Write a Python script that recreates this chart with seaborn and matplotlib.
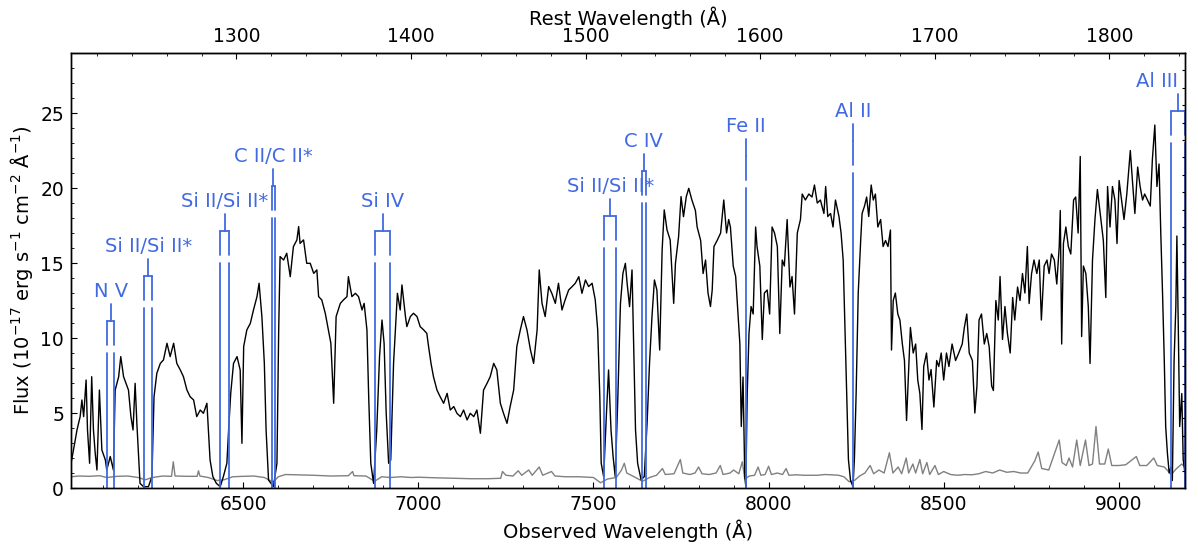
import pandas as pd
import seaborn as sns
import matplotlib.pyplot as plt
from matplotlib.ticker import MultipleLocator, NullLocator

# observed spectrum (Angstrom, 1e-17 erg/s/cm2/A)
obs_wave = [6008, 6015, 6025, 6034, 6039, 6044, 6051, 6055, 6061, 6067, 6072, 6077, 6082, 6089, 6096,
            6106, 6110, 6120, 6129, 6134, 6144, 6150, 6158, 6165, 6172, 6179, 6185, 6191, 6196, 6202,
            6205, 6215, 6229, 6239, 6245, 6253, 6263, 6272, 6282, 6291, 6301, 6310, 6320, 6329, 6339,
            6348, 6358, 6367, 6377, 6386, 6396, 6405, 6413, 6423, 6434, 6443, 6453, 6458, 6464, 6472,
            6482, 6491, 6496, 6501, 6510, 6520, 6529, 6539, 6545, 6553, 6560, 6565, 6572, 6586, 6596,
            6601, 6605, 6615, 6624, 6634, 6643, 6653, 6658, 6662, 6672, 6681, 6691, 6701, 6710, 6715,
            6724, 6734, 6743, 6750, 6758, 6765, 6777, 6786, 6796, 6800, 6810, 6820, 6829, 6839, 6845,
            6853, 6858, 6864, 6872, 6881, 6889, 6896, 6902, 6908, 6915, 6921, 6929, 6940, 6948, 6953,
            6963, 6967, 6977, 6986, 6996, 7005, 7015, 7024, 7029, 7036, 7043, 7053, 7062, 7072, 7082,
            7091, 7101, 7110, 7120, 7129, 7139, 7148, 7158, 7167, 7177, 7186, 7196, 7205, 7215, 7224,
            7229, 7234, 7243, 7253, 7262, 7272, 7281, 7291, 7300, 7310, 7320, 7329, 7339, 7345, 7353,
            7362, 7372, 7381, 7391, 7400, 7410, 7419, 7429, 7439, 7448, 7458, 7467, 7477, 7486, 7496,
            7505, 7512, 7518, 7522, 7529, 7537, 7543, 7550, 7556, 7562, 7569, 7577, 7584, 7591, 7596,
            7603, 7610, 7615, 7620, 7626, 7636, 7645, 7653, 7660, 7667, 7674, 7681, 7689, 7696, 7702,
            7710, 7719, 7729, 7734, 7743, 7750, 7757, 7765, 7772, 7781, 7791, 7796, 7806, 7813, 7820,
            7827, 7834, 7839, 7844, 7853, 7863, 7872, 7880, 7886, 7891, 7899, 7906, 7912, 7918, 7922,
            7927, 7932, 7935, 7939, 7944, 7950, 7956, 7963, 7967, 7975, 7982, 7988, 7996, 8003, 8010,
            8017, 8025, 8032, 8039, 8045, 8053, 8061, 8067, 8074, 8082, 8091, 8096, 8105, 8115, 8124,
            8131, 8139, 8148, 8158, 8163, 8169, 8177, 8184, 8191, 8201, 8207, 8213, 8218, 8223, 8228,
            8234, 8241, 8245, 8250, 8256, 8263, 8267, 8274, 8280, 8286, 8293, 8299, 8305, 8312, 8320,
            8327, 8334, 8341, 8348, 8351, 8356, 8362, 8369, 8375, 8382, 8388, 8394, 8401, 8405, 8413,
            8420, 8426, 8432, 8438, 8443, 8451, 8458, 8464, 8472, 8480, 8486, 8493, 8500, 8508, 8515,
            8524, 8534, 8543, 8553, 8559, 8566, 8573, 8582, 8589, 8595, 8601, 8608, 8616, 8623, 8630,
            8637, 8642, 8649, 8656, 8661, 8668, 8675, 8682, 8690, 8697, 8703, 8711, 8718, 8725, 8732,
            8739, 8744, 8751, 8758, 8766, 8773, 8779, 8787, 8795, 8801, 8808, 8816, 8823, 8830, 8833,
            8837, 8842, 8849, 8856, 8863, 8871, 8877, 8884, 8890, 8894, 8899, 8906, 8913, 8918, 8925,
            8932, 8939, 8947, 8956, 8963, 8968, 8975, 8982, 8989, 8995, 9001, 9008, 9015, 9023, 9033,
            9039, 9046, 9054, 9061, 9068, 9074, 9082, 9090, 9096, 9103, 9109, 9115, 9120, 9125, 9130,
            9134, 9139, 9144, 9149, 9153, 9158, 9163, 9166, 9170, 9174, 9180, 9184, 9189]
flux = [1.65, 2.54, 3.87, 4.76, 5.87, 4.76, 7.2, 3.87, 1.65, 7.42, 3.87, 2.32, 1.2, 6.53, 2.54,
        1.87, 1.2, 2.1, 1.2, 6.53, 7.42, 8.76, 7.42, 6.98, 6.53, 4.76, 3.87, 6.98, 4.3, 1.65,
        0.31, 0.09, 0.09, 0.76, 6.09, 7.65, 8.31, 8.54, 9.65, 8.76, 9.65, 8.31, 7.87, 7.42, 6.53,
        6.09, 5.87, 4.76, 5.2, 4.98, 5.65, 1.87, 0.76, 0.31, 0.09, 0.76, 1.65, 3.87, 6.31, 8.31,
        8.76, 7.87, 2.98, 9.43, 10.54, 10.98, 11.87, 12.76, 13.65, 11.43, 8.31, 3.87, 0.53, 0.09, 1.65,
        10.54, 15.43, 15.2, 15.65, 14.09, 16.09, 16.54, 17.43, 16.31, 16.54, 14.98, 14.98, 14.31, 14.54, 12.76,
        12.54, 11.65, 10.54, 9.65, 5.65, 11.43, 12.31, 12.54, 12.76, 14.09, 12.76, 12.98, 12.76, 11.87, 12.31,
        10.54, 6.09, 1.65, 0.31, 3.87, 8.76, 11.2, 9.65, 4.98, 1.65, 1.87, 8.31, 12.98, 11.87, 13.54,
        11.43, 10.76, 11.43, 11.65, 11.43, 10.76, 10.54, 10.31, 9.43, 8.31, 7.42, 6.53, 6.09, 5.65, 6.31,
        5.2, 5.43, 4.98, 4.76, 5.2, 4.54, 4.98, 4.76, 5.2, 3.65, 6.53, 6.98, 7.42, 8.31, 7.87,
        6.76, 5.65, 4.98, 4.31, 5.43, 6.53, 9.43, 10.54, 11.43, 10.54, 9.2, 8.31, 10.54, 14.54, 12.31,
        11.43, 13.43, 12.98, 12.31, 13.65, 11.87, 12.54, 13.2, 13.43, 13.65, 14.09, 12.98, 13.87, 13.43, 13.65,
        12.54, 10.54, 6.09, 1.65, 0.76, 4.98, 7.87, 3.87, 2.09, 0.76, 5.65, 12.31, 14.31, 14.98, 13.65,
        12.09, 14.54, 9.2, 3.87, 1.65, 0.54, 0.76, 4.31, 8.31, 11.43, 13.87, 13.2, 9.2, 15.87, 18.54,
        17.2, 16.54, 12.31, 14.98, 16.76, 19.43, 18.09, 19.43, 19.98, 19.2, 18.5, 17.4, 16.5, 14.3, 15.2,
        13.0, 12.1, 13.2, 16.1, 16.5, 17.0, 19.2, 17.0, 17.9, 17.4, 14.8, 14.1, 11.9, 9.6, 4.1,
        7.4, 0.75, 0.1, 6.3, 10.3, 12.1, 11.6, 17.4, 16.1, 14.8, 9.9, 13.0, 13.2, 11.6, 17.4,
        17.0, 16.1, 10.3, 15.2, 14.8, 17.9, 13.4, 14.1, 11.6, 17.0, 17.9, 19.6, 19.2, 19.6, 19.4,
        20.2, 19.0, 19.2, 18.3, 20.1, 18.1, 18.3, 17.4, 19.2, 18.1, 17.0, 15.2, 10.7, 6.3, 1.9,
        0.5, 0.1, 1.9, 6.3, 13.0, 16.5, 18.3, 18.8, 19.4, 18.1, 20.2, 19.2, 19.6, 17.4, 17.9,
        16.1, 16.5, 16.1, 17.2, 9.2, 12.5, 13.0, 11.6, 11.2, 9.6, 8.5, 4.5, 8.5, 10.7, 9.0,
        9.6, 7.2, 6.3, 3.9, 8.1, 9.0, 7.2, 7.9, 5.4, 8.5, 8.1, 9.0, 7.2, 9.0, 8.1,
        9.6, 8.5, 9.0, 9.6, 10.7, 11.6, 9.0, 8.5, 5.0, 6.8, 11.2, 11.6, 9.6, 10.3, 9.4,
        6.8, 6.5, 12.5, 11.2, 14.1, 9.9, 12.1, 10.3, 9.0, 12.7, 11.2, 13.4, 12.5, 14.3, 13.0,
        16.1, 12.3, 14.3, 15.2, 14.3, 15.2, 11.2, 14.8, 15.2, 14.3, 15.6, 15.2, 13.6, 16.1, 18.5,
        9.6, 16.3, 17.4, 16.1, 15.6, 19.2, 19.4, 17.0, 22.1, 10.1, 14.8, 14.3, 12.1, 8.3, 15.2,
        17.9, 19.9, 18.3, 16.5, 12.7, 20.1, 17.4, 20.1, 19.2, 16.3, 20.5, 19.2, 17.9, 19.6, 22.5,
        20.5, 18.3, 21.4, 20.1, 19.2, 19.6, 19.2, 18.8, 21.9, 24.2, 20.1, 21.6, 17.0, 13.0, 8.5,
        4.1, 2.3, 1.0, 1.4, 0.5, 8.5, 12.1, 16.8, 10.7, 4.1, 6.3, 1.9, 1.0]

# error spectrum
err_wave = [6008, 6030, 6060, 6090, 6110, 6140, 6170, 6200, 6220, 6240, 6270, 6295, 6300, 6305, 6340,
            6368, 6372, 6376, 6400, 6425, 6445, 6470, 6500, 6530, 6560, 6585, 6600, 6620, 6650, 6700,
            6750, 6800, 6812, 6816, 6850, 6875, 6895, 6920, 6950, 6980, 7000, 7050, 7100, 7150, 7200,
            7235, 7240, 7250, 7270, 7285, 7295, 7315, 7325, 7345, 7355, 7380, 7390, 7420, 7460, 7500,
            7520, 7540, 7565, 7580, 7588, 7595, 7620, 7640, 7660, 7680, 7697, 7705, 7730, 7748, 7755,
            7775, 7790, 7800, 7810, 7830, 7850, 7862, 7870, 7890, 7900, 7915, 7925, 7932, 7945, 7960,
            7970, 7978, 7990, 8000, 8008, 8025, 8040, 8050, 8058, 8080, 8100, 8140, 8160, 8180, 8200,
            8215, 8230, 8245, 8260, 8275, 8290, 8300, 8315, 8330, 8345, 8355, 8370, 8380, 8393, 8400,
            8412, 8420, 8432, 8440, 8452, 8460, 8475, 8485, 8500, 8520, 8540, 8560, 8580, 8600, 8620,
            8640, 8660, 8680, 8700, 8720, 8740, 8760, 8770, 8780, 8800, 8830, 8838, 8850, 8858, 8868,
            8880, 8890, 8905, 8915, 8925, 8935, 8945, 8960, 8970, 8980, 9000, 9020, 9050, 9060, 9080,
            9100, 9110, 9130, 9150, 9165, 9180, 9189]
err_flux = [0.75, 0.8, 0.78, 0.82, 0.7, 0.78, 0.8, 0.7, 0.55, 0.7, 0.8, 0.78, 1.75, 0.8, 0.78,
            0.78, 1.15, 0.8, 0.7, 0.5, 0.55, 0.75, 0.78, 0.8, 0.7, 0.4, 0.75, 0.9, 0.88, 0.85,
            0.8, 0.82, 1.1, 0.82, 0.8, 0.45, 0.75, 0.7, 0.75, 0.7, 0.72, 0.68, 0.65, 0.62, 0.62,
            0.65, 1.1, 0.85, 0.8, 1.15, 0.85, 1.2, 0.85, 1.4, 0.85, 1.1, 0.8, 0.75, 0.75, 0.7,
            0.35, 0.6, 0.7, 1.2, 1.65, 1.0, 0.7, 0.45, 0.7, 0.85, 1.3, 0.9, 0.95, 1.9, 1.0,
            0.9, 1.0, 1.4, 0.95, 0.9, 1.0, 1.5, 0.9, 1.0, 1.2, 0.95, 1.75, 0.6, 0.8, 0.85,
            1.4, 0.85, 0.9, 1.45, 0.9, 1.0, 0.9, 1.3, 0.85, 0.88, 0.85, 0.85, 0.9, 0.88, 0.85,
            0.75, 0.42, 0.5, 0.8, 1.0, 1.5, 0.95, 1.2, 1.0, 2.35, 1.0, 1.4, 0.95, 2.0, 1.0,
            1.6, 1.0, 1.9, 0.95, 1.7, 0.9, 1.5, 0.9, 1.1, 0.9, 0.85, 0.9, 0.88, 0.95, 1.1,
            1.0, 1.2, 1.05, 1.1, 1.0, 1.0, 1.8, 2.4, 1.3, 1.2, 3.2, 1.7, 1.5, 2.0, 1.4,
            3.2, 1.5, 3.2, 1.5, 1.6, 4.1, 1.6, 1.6, 2.6, 1.5, 1.5, 1.55, 2.1, 1.5, 1.5,
            2.0, 1.5, 1.4, 0.9, 1.3, 1.6, 1.4]

z_qso = 3.985   # for the rest-frame axis
z_abs = 3.933   # absorber

line_names = ['N V', 'Si II/Si II*', 'Si II/Si II*', 'C II/C II*', 'Si IV', 'Si II/Si II*',
              'C IV', 'Fe II', 'Al II', 'Al III']
line_rest = [(1238.82, 1242.80), (1260.42, 1264.74), (1304.37, 1309.28), (1334.53, 1335.71),
             (1393.76, 1402.77), (1526.71, 1533.43), (1548.20, 1550.78), (1608.45,),
             (1670.79,), (1854.72, 1862.79)]
line_level = [11.13, 14.13, 17.13, 20.13, 17.13, 18.13, 21.13, 22.13, 23.13, 25.13]
label_ha = ['center'] * 9 + ['right']

sns.set_style('ticks')
plt.rcParams['font.family'] = ['DejaVu Sans']
plt.rcParams['xtick.direction'] = 'in'
plt.rcParams['ytick.direction'] = 'in'
for key in ['text.color', 'axes.labelcolor', 'xtick.color', 'ytick.color', 'axes.edgecolor']:
    plt.rcParams[key] = 'black'

blue = '#4169e1'

fig, ax = plt.subplots(figsize=(11.98, 5.46), dpi=100)
fig.subplots_adjust(left=0.0593, right=0.9891, bottom=0.1062, top=0.9029)

spec = pd.DataFrame({'wave': obs_wave, 'flux': flux})
err = pd.DataFrame({'wave': err_wave, 'flux': err_flux})
sns.lineplot(data=err, x='wave', y='flux', color='gray', lw=1, estimator=None, sort=False, ax=ax)
sns.lineplot(data=spec, x='wave', y='flux', color='black', lw=1, estimator=None, sort=False, ax=ax)

# absorption line markers
for name, rest, lev, ha in zip(line_names, line_rest, line_level, label_ha):
    waves = [r * (1 + z_abs) for r in rest]
    for w in waves:
        ax.plot([w, w], [0, lev - 2.15], color=blue, lw=1.3)
        ax.plot([w, w], [lev - 1.6, lev], color=blue, lw=1.3)
    if len(waves) == 2:
        ax.plot(waves, [lev, lev], color=blue, lw=1.3)
    wc = sum(waves) / len(waves)
    ax.plot([wc, wc], [lev, lev + 1.12], color=blue, lw=1.3)
    ax.text(wc, lev + 1.6, name, color=blue, fontsize=14, ha=ha, va='baseline')

ax.set_xlim(obs_wave[0], obs_wave[-1])
ax.set_ylim(0, 29)
ax.set_xlabel('Observed Wavelength (Å)', fontsize=14)
ax.set_ylabel('Flux (10$^{-17}$ erg s$^{-1}$ cm$^{-2}$ Å$^{-1}$)', fontsize=14)
ax.xaxis.set_major_locator(MultipleLocator(500))
ax.xaxis.set_minor_locator(MultipleLocator(100))
ax.yaxis.set_major_locator(MultipleLocator(5))
ax.yaxis.set_minor_locator(MultipleLocator(1))
ax.tick_params(which='both', labelsize=13.5, pad=5)
ax.tick_params(which='major', length=4.5)
ax.tick_params(which='minor', length=2.5)

top = ax.secondary_xaxis('top', functions=(lambda x: x / (1 + z_qso), lambda x: x * (1 + z_qso)))
top.set_xlabel('Rest Wavelength (Å)', fontsize=14, labelpad=1.5)
top.xaxis.set_major_locator(MultipleLocator(100))
top.xaxis.set_minor_locator(MultipleLocator(20))
top.tick_params(which='both', direction='in', labelsize=13.5, pad=5)
top.tick_params(which='major', length=4.5)
top.tick_params(which='minor', length=2.5)

right = ax.twinx()
right.set_ylim(0, 1)
right.yaxis.set_major_locator(MultipleLocator(0.04))
right.yaxis.set_minor_locator(NullLocator())
right.tick_params(axis='y', direction='in', length=2.5, labelright=False)

for a in (ax, right):
    for s in a.spines.values():
        s.set_linewidth(1.0)

plt.savefig('out.png', dpi=100)
